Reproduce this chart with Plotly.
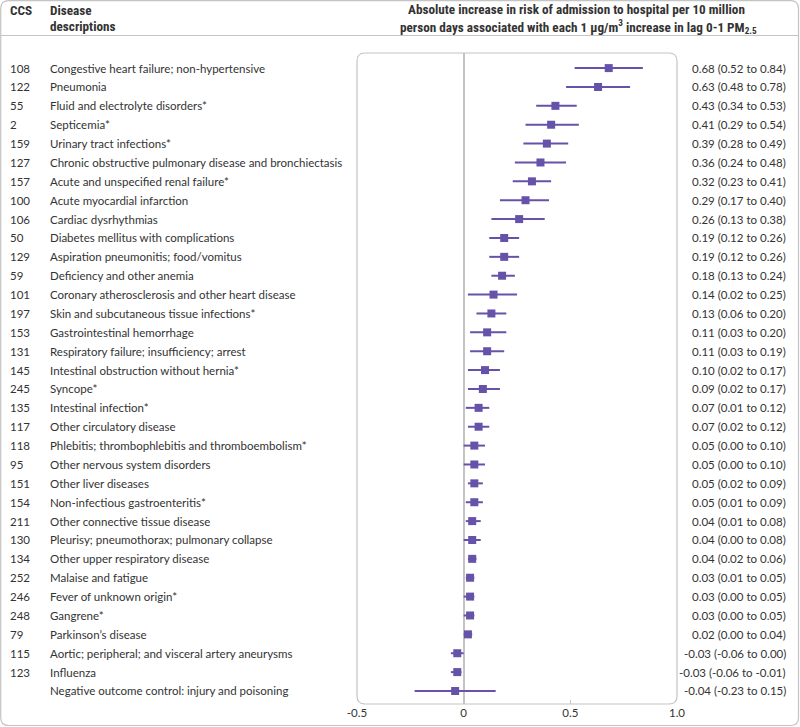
import plotly.graph_objects as go

ccs = ["108", "122", "55", "2", "159", "127", "157", "100", "106", "50", "129", "59",
       "101", "197", "153", "131", "145", "245", "135", "117", "118", "95", "151", "154",
       "211", "130", "134", "252", "246", "248", "79", "115", "123", ""]
descriptions = [
    "Congestive heart failure; non-hypertensive",
    "Pneumonia",
    "Fluid and electrolyte disorders*",
    "Septicemia*",
    "Urinary tract infections*",
    "Chronic obstructive pulmonary disease and bronchiectasis",
    "Acute and unspecified renal failure*",
    "Acute myocardial infarction",
    "Cardiac dysrhythmias",
    "Diabetes mellitus with complications",
    "Aspiration pneumonitis; food/vomitus",
    "Deficiency and other anemia",
    "Coronary atherosclerosis and other heart disease",
    "Skin and subcutaneous tissue infections*",
    "Gastrointestinal hemorrhage",
    "Respiratory failure; insufficiency; arrest",
    "Intestinal obstruction without hernia*",
    "Syncope*",
    "Intestinal infection*",
    "Other circulatory disease",
    "Phlebitis; thrombophlebitis and thromboembolism*",
    "Other nervous system disorders",
    "Other liver diseases",
    "Non-infectious gastroenteritis*",
    "Other connective tissue disease",
    "Pleurisy; pneumothorax; pulmonary collapse",
    "Other upper respiratory disease",
    "Malaise and fatigue",
    "Fever of unknown origin*",
    "Gangrene*",
    "Parkinson’s disease",
    "Aortic; peripheral; and visceral artery aneurysms",
    "Influenza",
    "Negative outcome control: injury and poisoning",
]
estimate = [0.68, 0.63, 0.43, 0.41, 0.39, 0.36, 0.32, 0.29, 0.26, 0.19, 0.19, 0.18,
            0.14, 0.13, 0.11, 0.11, 0.10, 0.09, 0.07, 0.07, 0.05, 0.05, 0.05, 0.05,
            0.04, 0.04, 0.04, 0.03, 0.03, 0.03, 0.02, -0.03, -0.03, -0.04]
lower = [0.52, 0.48, 0.34, 0.29, 0.28, 0.24, 0.23, 0.17, 0.13, 0.12, 0.12, 0.13,
         0.02, 0.06, 0.03, 0.03, 0.02, 0.02, 0.01, 0.02, 0.00, 0.00, 0.02, 0.01,
         0.01, 0.00, 0.02, 0.01, 0.00, 0.00, 0.00, -0.06, -0.06, -0.23]
upper = [0.84, 0.78, 0.53, 0.54, 0.49, 0.48, 0.41, 0.40, 0.38, 0.26, 0.26, 0.24,
         0.25, 0.20, 0.20, 0.19, 0.17, 0.17, 0.12, 0.12, 0.10, 0.10, 0.09, 0.09,
         0.08, 0.08, 0.06, 0.05, 0.05, 0.05, 0.04, 0.00, -0.01, 0.15]
x_ticks = [-0.5, 0, 0.5, 1.0]
x_tick_labels = ["-0.5", "0", "0.5", "1.0"]

W, H = 800, 727
L, R, T, B = 357, 677, 53, 704
n = len(estimate)
rows = list(range(n))

PURPLE = "#6652a8"
TEXT = "#333333"
BORDER = "#c4c4c4"
BODY_FONT = "Lato, 'Open Sans', sans-serif"
HEAD_FONT = "'Liberation Sans Narrow', 'Roboto Condensed', 'Arial Narrow', Roboto, sans-serif"
DESC_SIZE = 11.5
NUM_SIZE = 11.5
HEAD_SIZE = 13.2

fig = go.Figure()
fig.add_trace(go.Scatter(
    x=estimate, y=rows, mode="markers",
    marker=dict(symbol="square", size=8, color=PURPLE),
    error_x=dict(type="data", symmetric=False,
                 array=[u - e for u, e in zip(upper, estimate)],
                 arrayminus=[e - l for e, l in zip(estimate, lower)],
                 color=PURPLE, thickness=2, width=0),
    hoverinfo="skip", showlegend=False,
))


def px_x(p):
    return (p - L) / (R - L)


def px_y(p):
    return (B - p) / (B - T)


def rrect(x0, y0, x1, y1, r):
    X = px_x
    Y = px_y
    return (f"M {X(x0 + r)} {Y(y0)} L {X(x1 - r)} {Y(y0)} Q {X(x1)} {Y(y0)} {X(x1)} {Y(y0 + r)} "
            f"L {X(x1)} {Y(y1 - r)} Q {X(x1)} {Y(y1)} {X(x1 - r)} {Y(y1)} "
            f"L {X(x0 + r)} {Y(y1)} Q {X(x0)} {Y(y1)} {X(x0)} {Y(y1 - r)} "
            f"L {X(x0)} {Y(y0 + r)} Q {X(x0)} {Y(y0)} {X(x0 + r)} {Y(y0)} Z")


shapes = [
    dict(type="path", xref="paper", yref="paper", path=rrect(0.7, 0.7, 798.5, 725.5, 8),
         line=dict(color=BORDER, width=1.2), layer="below"),
    dict(type="line", xref="paper", yref="paper", x0=px_x(0.7), x1=px_x(798.5),
         y0=px_y(35.5), y1=px_y(35.5), line=dict(color=BORDER, width=1.2)),
    dict(type="path", xref="paper", yref="paper", path=rrect(L, T, R, B, 8),
         line=dict(color=BORDER, width=1.2), layer="below"),
]

annotations = []
for i in rows:
    if ccs[i]:
        annotations.append(dict(x=px_x(8), y=i, xref="paper", yref="y", text=ccs[i],
                                xanchor="left", yanchor="middle", showarrow=False,
                                font=dict(family=BODY_FONT, size=NUM_SIZE, color=TEXT)))
    annotations.append(dict(x=px_x(48), y=i, xref="paper", yref="y", text=descriptions[i],
                            xanchor="left", yanchor="middle", showarrow=False,
                            font=dict(family=BODY_FONT, size=DESC_SIZE, color=TEXT)))
    annotations.append(dict(x=px_x(788), y=i, xref="paper", yref="y",
                            text=f"{estimate[i]:.2f} ({lower[i]:.2f} to {upper[i]:.2f})",
                            xanchor="right", yanchor="middle", showarrow=False,
                            font=dict(family=BODY_FONT, size=NUM_SIZE, color=TEXT)))


def head(text, x, y, anchor):
    return dict(x=px_x(x), y=px_y(y), xref="paper", yref="paper", text=f"<b>{text}</b>",
                xanchor=anchor, yanchor="middle", showarrow=False,
                font=dict(family=HEAD_FONT, size=HEAD_SIZE, color=TEXT))


annotations += [
    head("CCS", 8, 10, "left"),
    head("Disease", 48, 10, "left"),
    head("descriptions", 48, 26, "left"),
    head("Absolute increase in risk of admission to hospital per 10 million", 576, 9.5, "center"),
    head("person days associated with each 1 µg/m<sup>3</sup> increase in lag 0-1 PM<sub>2.5</sub>",
         578, 26, "center"),
]

fig.update_layout(
    width=W, height=H,
    margin=dict(l=L, r=W - R, t=T, b=H - B, autoexpand=False),
    paper_bgcolor="white", plot_bgcolor="white",
    shapes=shapes, annotations=annotations,
    xaxis=dict(range=[-0.5, 1.0], tickvals=x_ticks, ticktext=x_tick_labels,
               showgrid=False, zeroline=True, zerolinecolor=BORDER, zerolinewidth=1.5,
               ticks="inside", ticklen=4, tickcolor=BORDER, showline=False,
               tickfont=dict(family=BODY_FONT, size=NUM_SIZE, color=TEXT), fixedrange=True),
    yaxis=dict(range=[n - 1 + 0.69, -0.8], showticklabels=False, showgrid=False,
               zeroline=False, showline=False, ticks="", fixedrange=True),
)

fig.write_html("out.html", config={"displayModeBar": False},
               post_script="document.body.style.margin='0';document.body.style.overflow='hidden';")
